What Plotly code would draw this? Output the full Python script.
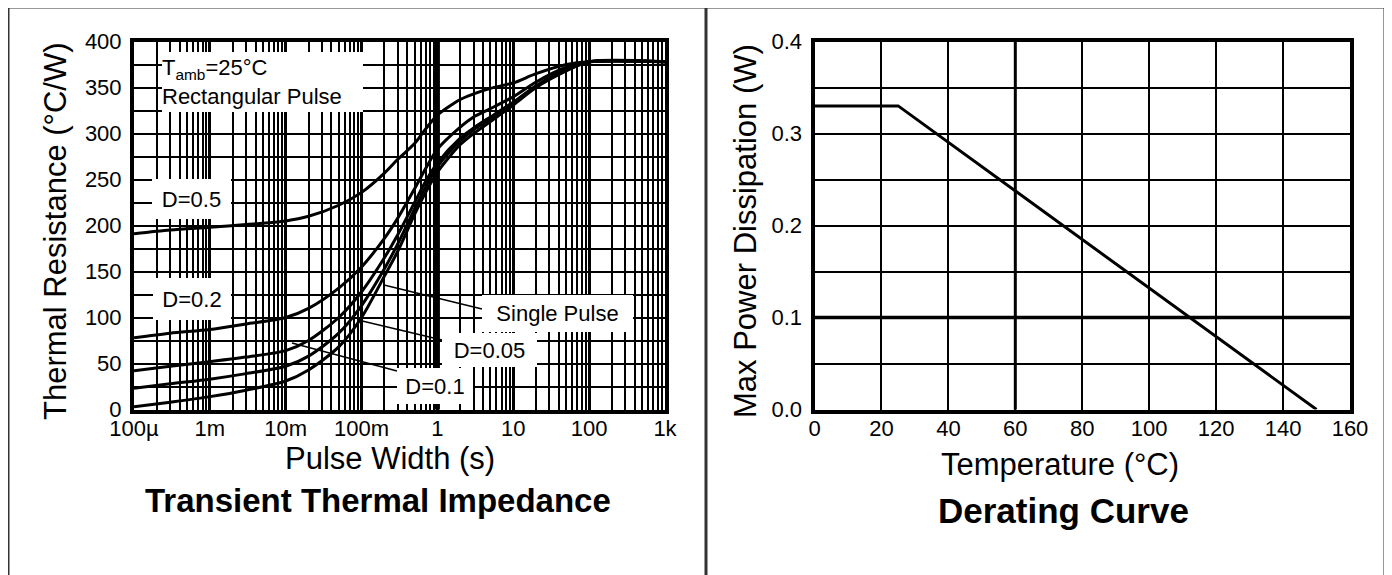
import math
import plotly.graph_objects as go

W, H = 1392, 575
OFF = 8  # page body margin of the browser

# ---------------- data: Transient Thermal Impedance ----------------
pulse_width_s = [1e-4, 3e-4, 1e-3, 3e-3, 1e-2, 2e-2, 5e-2, 0.1, 0.2, 0.3, 0.5,
                 0.7, 1, 2, 3, 5, 10, 20, 50, 100, 1000]
r_d050 = [191, 195, 198, 201, 205, 210, 222, 236, 257, 272, 289, 305, 320, 337,
          343, 349, 355, 365, 375, 378, 378]
r_d020 = [78, 83, 87, 93, 100, 110, 132, 155, 186, 208, 240, 262, 283, 307,
          318, 327, 340, 356, 372, 378, 378]
r_d010 = [42, 47, 52, 57, 64, 75, 100, 128, 165, 190, 225, 248, 268, 295,
          306, 318, 334, 352, 370, 378, 378]
r_d005 = [23, 28, 33, 39, 47, 58, 83, 113, 153, 180, 218, 242, 264, 292,
          304, 316, 333, 351, 369, 378, 378]
r_single = [3, 8, 14, 21, 31, 43, 68, 100, 145, 172, 212, 236, 258, 288,
            300, 313, 331, 350, 368, 378, 378]

x1_tickvals = [1e-4, 1e-3, 1e-2, 1e-1, 1, 10, 100, 1000]
x1_ticktext = ["100µ", "1m", "10m", "100m", "1", "10", "100", "1k"]
y1_tickvals = [0, 50, 100, 150, 200, 250, 300, 350, 400]

# ---------------- data: Derating Curve ----------------
temperature_c = [0, 25, 150]
max_power_w = [0.33, 0.33, 0.0]
x2_tickvals = [0, 20, 40, 60, 80, 100, 120, 140, 160]
y2_tickvals = [0.0, 0.1, 0.2, 0.3, 0.4]

FONT = "Liberation Sans, Arial, sans-serif"


def px(x):
    return (x - OFF) / W


def py(y):
    return 1 - (y - OFF) / H


fig = go.Figure()

curve_style = dict(color="black", width=3, shape="spline", smoothing=0.8)
for vals in [r_d050, r_d020, r_d010, r_d005, r_single]:
    fig.add_trace(go.Scatter(x=pulse_width_s, y=vals, mode="lines",
                             line=curve_style, xaxis="x", yaxis="y",
                             showlegend=False, hoverinfo="skip"))

fig.add_trace(go.Scatter(x=temperature_c, y=max_power_w, mode="lines",
                         line=dict(color="black", width=3),
                         xaxis="x2", yaxis="y2", showlegend=False,
                         hoverinfo="skip"))

ydom = [py(409.5), py(41.5)]
axis_common = dict(showline=True, mirror=True, linecolor="black", linewidth=4,
                   ticks="", showgrid=True, gridcolor="black", zeroline=False,
                   automargin=False,
                   tickfont=dict(family=FONT, size=22, color="black"))

fig.update_layout(
    template="none",
    width=W, height=H, autosize=False,
    margin=dict(l=0, r=0, t=0, b=0, pad=0, autoexpand=False),
    paper_bgcolor="white", plot_bgcolor="white",
    xaxis=dict(domain=[px(134), px(665)], type="log", range=[-4, 3],
               tickvals=x1_tickvals, ticktext=x1_ticktext, gridwidth=3,
               minor=dict(dtick="D1", showgrid=True, gridcolor="black",
                          gridwidth=2, ticks=""),
               anchor="y", ticklabelstandoff=-4, **axis_common),
    yaxis=dict(domain=ydom, range=[0, 400], tickvals=y1_tickvals, gridwidth=2,
               minor=dict(dtick=25, showgrid=True, gridcolor="black",
                          gridwidth=2, ticks=""),
               anchor="x", ticklabelstandoff=4, **axis_common),
    xaxis2=dict(domain=[px(814.5), px(1350)], range=[0, 160],
                tickvals=x2_tickvals, gridwidth=2, anchor="y2",
                ticklabelstandoff=-4, **axis_common),
    yaxis2=dict(domain=ydom, range=[0, 0.4], tickvals=y2_tickvals,
                tickformat=".1f", gridwidth=2,
                minor=dict(dtick=0.05, showgrid=True, gridcolor="black",
                           gridwidth=2, ticks=""),
                anchor="x2", ticklabelstandoff=4, **axis_common),
)

shapes = []
# outer frame and divider
frame = dict(type="line", xref="paper", yref="paper",
             line=dict(color="#333333", width=3))
shapes.append(dict(frame, x0=px(8), x1=px(1385), y0=py(7), y1=py(7)))
shapes.append(dict(frame, x0=px(8), x1=px(8), y0=py(7), y1=py(590)))
shapes.append(dict(frame, x0=px(706), x1=px(706), y0=py(7), y1=py(590)))
shapes.append(dict(frame, x0=px(1385), x1=px(1385), y0=py(7), y1=py(590)))

# heavier grid lines
for d in [1, 10]:
    shapes.append(dict(type="line", xref="x", yref="y domain",
                       x0=math.log10(d), x1=math.log10(d), y0=0, y1=1,
                       line=dict(color="black", width=5), layer="below"))
shapes.append(dict(type="line", xref="x2 domain", yref="y2", x0=0, x1=1,
                   y0=0.1, y1=0.1, line=dict(color="black", width=3.5),
                   layer="below"))
shapes.append(dict(type="line", xref="x2", yref="y2 domain", x0=60, x1=60,
                   y0=0, y1=1, line=dict(color="black", width=3),
                   layer="below"))

# leader lines
leader = dict(type="line", xref="paper", yref="paper",
              line=dict(color="black", width=1.3))
shapes.append(dict(leader, x0=px(384), y0=py(285), x1=px(482), y1=py(309)))
shapes.append(dict(leader, x0=px(358), y0=py(320), x1=px(442), y1=py(340)))
shapes.append(dict(leader, x0=px(292), y0=py(343), x1=px(397), y1=py(371)))
fig.update_layout(shapes=shapes)

ann = []


def box(text, x0, x1, y0, y1, size=22, align="center"):
    ann.append(dict(text=text, xref="paper", yref="paper",
                    x=px((x0 + x1) / 2), y=py((y0 + y1) / 2),
                    xanchor="center", yanchor="middle", showarrow=False,
                    width=x1 - x0, height=y1 - y0, align=align,
                    bgcolor="white", borderpad=0, borderwidth=0,
                    font=dict(family=FONT, size=size, color="black")))


box("T<sub>amb</sub>=25°C<br>Rectangular Pulse", 162, 363, 52, 112, size=22,
    align="left")
box("D=0.5", 152, 231, 179, 219)
box("D=0.2", 153, 231, 278, 320)
box("Single Pulse", 482, 633, 295, 332)
box("D=0.05", 442, 537, 333, 367)
box("D=0.1", 397, 473, 368, 404)


def label(text, x, y, size, angle=0, bold=False):
    ann.append(dict(text=("<b>%s</b>" % text) if bold else text,
                    xref="paper", yref="paper", x=px(x), y=py(y),
                    xanchor="center", yanchor="middle", showarrow=False,
                    textangle=angle,
                    font=dict(family=FONT, size=size, color="black")))


label("Thermal Resistance (°C/W)", 55, 231, 31, angle=-90)
label("Pulse Width (s)", 390, 458, 31)
label("Transient Thermal Impedance", 378, 500, 33, bold=True)
label("Max Power Dissipation (W)", 745, 231, 31, angle=-90)
label("Temperature (°C)", 1060, 464, 31)
label("Derating Curve", 1063, 510, 35, bold=True)

fig.update_layout(annotations=ann)

fig.write_html("out.html")
